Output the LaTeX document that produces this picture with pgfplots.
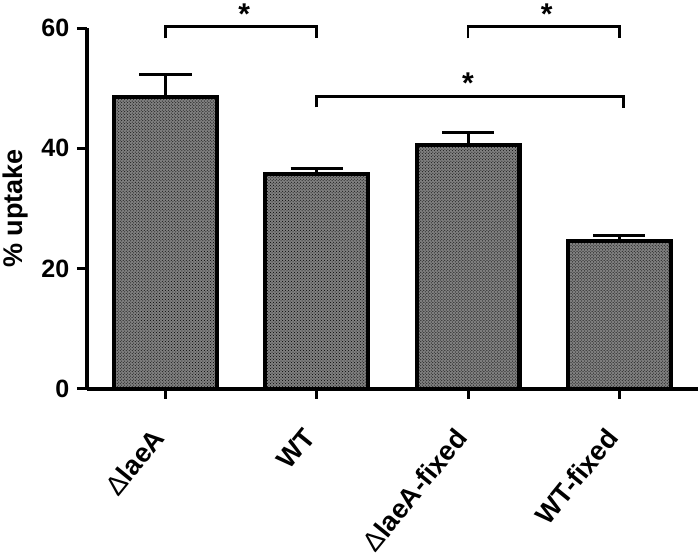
\documentclass[border={0pt 3pt 0pt 0pt}]{standalone}
\usepackage{pgfplots}
\pgfplotsset{compat=1.18}
\usepackage{fontspec}
\setmainfont{Liberation Sans}
\usetikzlibrary{patterns}
\definecolor{barfill}{RGB}{128,128,128}
\begin{document}
\begin{tikzpicture}
\begin{axis}[
  scale only axis, width=610pt, height=360pt,
  xmin=-0.52, xmax=3.52, ymin=0, ymax=60,
  axis lines*=left,
  axis line style={line width=4pt},
  xtick={0,1,2,3},
  xticklabels={{{\mdseries Δ}laeA},{WT},{{\mdseries Δ}laeA-fixed},{WT-fixed}},
  ytick={0,20,40,60},
  tick style={line width=3pt, black},
  tick align=outside,
  major tick length=10pt,
  /pgf/number format/assume math mode=true,
  yticklabel style={font=\bfseries\fontsize{25}{27}\selectfont, xshift=-4pt},
  x tick label style={font=\bfseries\fontsize{27}{29}\selectfont, xshift=-15pt, yshift=-26pt, rotate=51, anchor=north east, inner sep=1pt},
  ylabel={\% uptake},
  ylabel style={font=\bfseries\fontsize{27}{29}\selectfont, yshift=6pt},
  clip=false,
]
\addplot[ybar, bar width=0.68, fill=barfill, draw=black, line width=4pt,
  postaction={pattern=crosshatch dots},
  error bars/.cd, y dir=plus, y explicit,
  error bar style={line width=3pt, black},
  error mark options={rotate=90, mark size=26pt, line width=3pt, black}]
coordinates {
 (0,48.5) +- (0,3.7)
 (1,35.7) +- (0,1.0)
 (2,40.5) +- (0,2.1)
 (3,24.5) +- (0,1.0)
};
\draw[line width=2.8pt] (axis cs:0,58.3) -- (axis cs:0,60.3) -- (axis cs:1,60.3) -- (axis cs:1,58.3);
\draw[line width=2.8pt] (axis cs:2,58.3) -- (axis cs:2,60.3) -- (axis cs:3,60.3) -- (axis cs:3,58.3);
\draw[line width=2.8pt] (axis cs:1,46.8) -- (axis cs:1,48.6) -- (axis cs:3.03,48.6) -- (axis cs:3.03,46.7);
\node[font=\bfseries\fontsize{30}{32}\selectfont] at (axis cs:0.52,62.4) {*};
\node[font=\bfseries\fontsize{30}{32}\selectfont] at (axis cs:2.52,62.4) {*};
\node[font=\bfseries\fontsize{30}{32}\selectfont] at (axis cs:2,50.8) {*};
\end{axis}
\end{tikzpicture}
\end{document}
